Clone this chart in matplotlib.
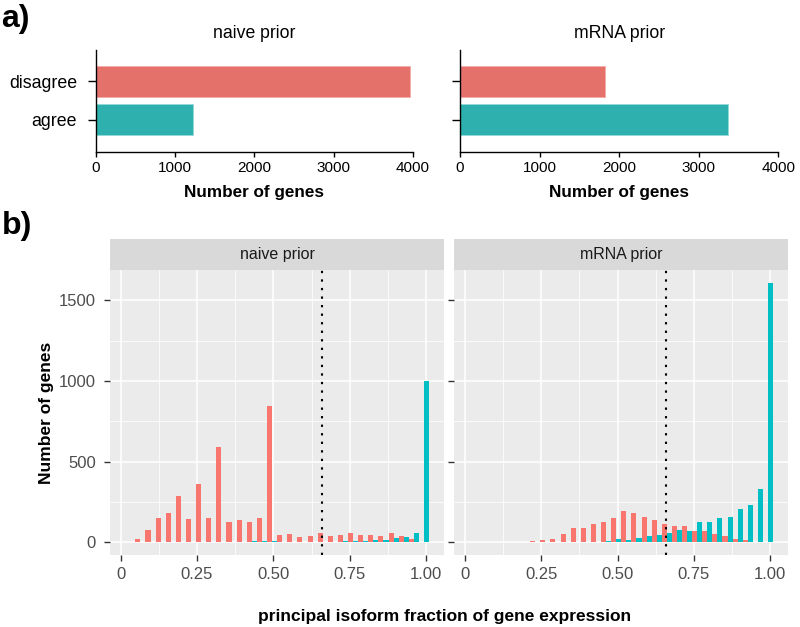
import numpy as np
import matplotlib.pyplot as plt
from matplotlib.ticker import FixedLocator

plt.rcParams['font.family'] = ['Liberation Sans', 'DejaVu Sans']

# panel a: number of genes per group
groups = ['agree', 'disagree']
priors = ['naive prior', 'mRNA prior']
naive_counts = [1232, 3968]
mrna_counts = [3371, 1822]

# panel b: histogram counts, 30 bins (disagree = red, agree = teal)
bin_start = 0.0148
bin_width = 0.03315
naive_disagree = [5, 21, 79, 151, 184, 290, 147, 360, 153, 590, 128, 137, 124, 153, 843,
                  47, 54, 35, 39, 56, 39, 43, 56, 48, 48, 41, 60, 37, 19, 0]
naive_agree = [3, 3, 3, 3, 3, 3, 3, 3, 3, 3, 3, 3, 8, 8, 10,
               4, 4, 4, 3, 4, 5, 6, 8, 6, 17, 17, 29, 33, 60, 1002]
mrna_disagree = [2, 2, 2, 2, 2, 2, 8, 14, 21, 51, 87, 91, 113, 124, 148,
                 192, 181, 157, 140, 113, 99, 101, 70, 72, 49, 41, 23, 16, 2, 0]
mrna_agree = [1, 1, 1, 1, 1, 1, 1, 1, 2, 2, 2, 3, 3, 6, 23,
              14, 27, 39, 45, 58, 76, 68, 124, 128, 150, 157, 206, 229, 332, 1608]
cutoff = 0.66

RED_A, TEAL_A = '#E5716B', '#2EB1AE'
RED, TEAL = '#F8766D', '#00BFC4'

W, H = 800, 627


def px(l, t, r, b):
    return [l / W, 1 - b / H, (r - l) / W, (b - t) / H]


fig = plt.figure(figsize=(W / 100, H / 100), dpi=100)

# ---- panel a ----
top_axes = [fig.add_axes(px(95.7, 50, 412.9, 151.7)),
            fig.add_axes(px(460, 50, 778.3, 151.7))]
for i, (ax, title, counts) in enumerate(zip(top_axes, priors, [naive_counts, mrna_counts])):
    ax.barh(range(len(groups)), counts, height=0.81, color=[TEAL_A, RED_A],
            edgecolor=['#8FDCD8', '#F4ABA6'], linewidth=0.6)
    ax.set_xlim(0, 4000)
    ax.set_ylim(-0.83, 1.82)
    ax.set_xticks([0, 1000, 2000, 3000, 4000])
    ax.set_yticks(range(len(groups)))
    ax.set_yticklabels(groups if i == 0 else [])
    for s in ['top', 'right']:
        ax.spines[s].set_visible(False)
    for s in ['left', 'bottom']:
        ax.spines[s].set_linewidth(1.0)
    ax.tick_params(axis='x', length=3.5, width=1.0, pad=3.5, labelsize=11)
    ax.tick_params(axis='y', length=5.5, width=1.0, pad=8, labelsize=12.8)
    ax.set_title(title, fontsize=12.7, pad=9)
    ax.set_xlabel('Number of genes', fontsize=12.3, fontweight='bold', labelpad=7)

# ---- panel b ----
lefts = bin_start + bin_width * np.arange(len(naive_disagree))
bot_axes = [fig.add_axes(px(110, 270, 444.3, 555.3)),
            fig.add_axes(px(454.3, 270, 788.3, 555.3))]
for i, (ax, title, dis, agr) in enumerate(zip(bot_axes, priors,
                                                [naive_disagree, mrna_disagree],
                                                [naive_agree, mrna_agree])):
    ax.set_facecolor('#EBEBEB')
    ax.bar(lefts, dis, width=bin_width / 2, align='edge', color=RED, linewidth=0)
    ax.bar(lefts + bin_width / 2, agr, width=bin_width / 2, align='edge', color=TEAL, linewidth=0)
    ax.axvline(cutoff, color='black', linestyle=(0, (1.1, 3.0)), linewidth=1.5)
    ax.set_xlim(-0.0349, 1.0592)
    ax.set_ylim(-80.4, 1688)
    ax.xaxis.set_major_locator(FixedLocator([0, 0.25, 0.5, 0.75, 1.0]))
    ax.xaxis.set_minor_locator(FixedLocator([0.125, 0.375, 0.625, 0.875]))
    ax.yaxis.set_major_locator(FixedLocator([0, 500, 1000, 1500]))
    ax.yaxis.set_minor_locator(FixedLocator([250, 750, 1250]))
    ax.set_xticklabels(['0', '0.25', '0.50', '0.75', '1.00'])
    if i > 0:
        ax.set_yticklabels([])
    ax.grid(which='major', color='white', linewidth=1.1)
    ax.grid(which='minor', color='white', linewidth=0.55)
    ax.set_axisbelow(True)
    for s in ax.spines.values():
        s.set_visible(False)
    ax.tick_params(which='major', length=4, width=1.0, color='#333333',
                   labelcolor='#4D4D4D', labelsize=12)
    ax.tick_params(axis='x', pad=4.5)
    ax.tick_params(axis='y', pad=6)
    ax.tick_params(which='minor', length=0)

    # facet strip
    pos = ax.get_position()
    strip = fig.add_axes([pos.x0, pos.y1, pos.width, 31 / H])
    strip.set_facecolor('#D9D9D9')
    strip.set_xticks([])
    strip.set_yticks([])
    for s in strip.spines.values():
        s.set_visible(False)
    strip.text(0.5, 0.5, title, ha='center', va='center', fontsize=11.5, color='#1A1A1A')

fig.text(47 / W, 1 - 412.6 / H, 'Number of genes', rotation=90, ha='center', va='center',
         fontsize=12.5, fontweight='bold')
fig.text(445 / W, 1 - 616 / H, 'principal isoform fraction of gene expression',
         ha='center', va='center', fontsize=12.5, fontweight='bold')

fig.text(1 / W, 1 - 4 / H, 'a)', fontsize=23, fontweight='bold', va='top')
fig.text(2 / W, 1 - 211 / H, 'b)', fontsize=23, fontweight='bold', va='top')

fig.savefig('out.png', dpi=100)
